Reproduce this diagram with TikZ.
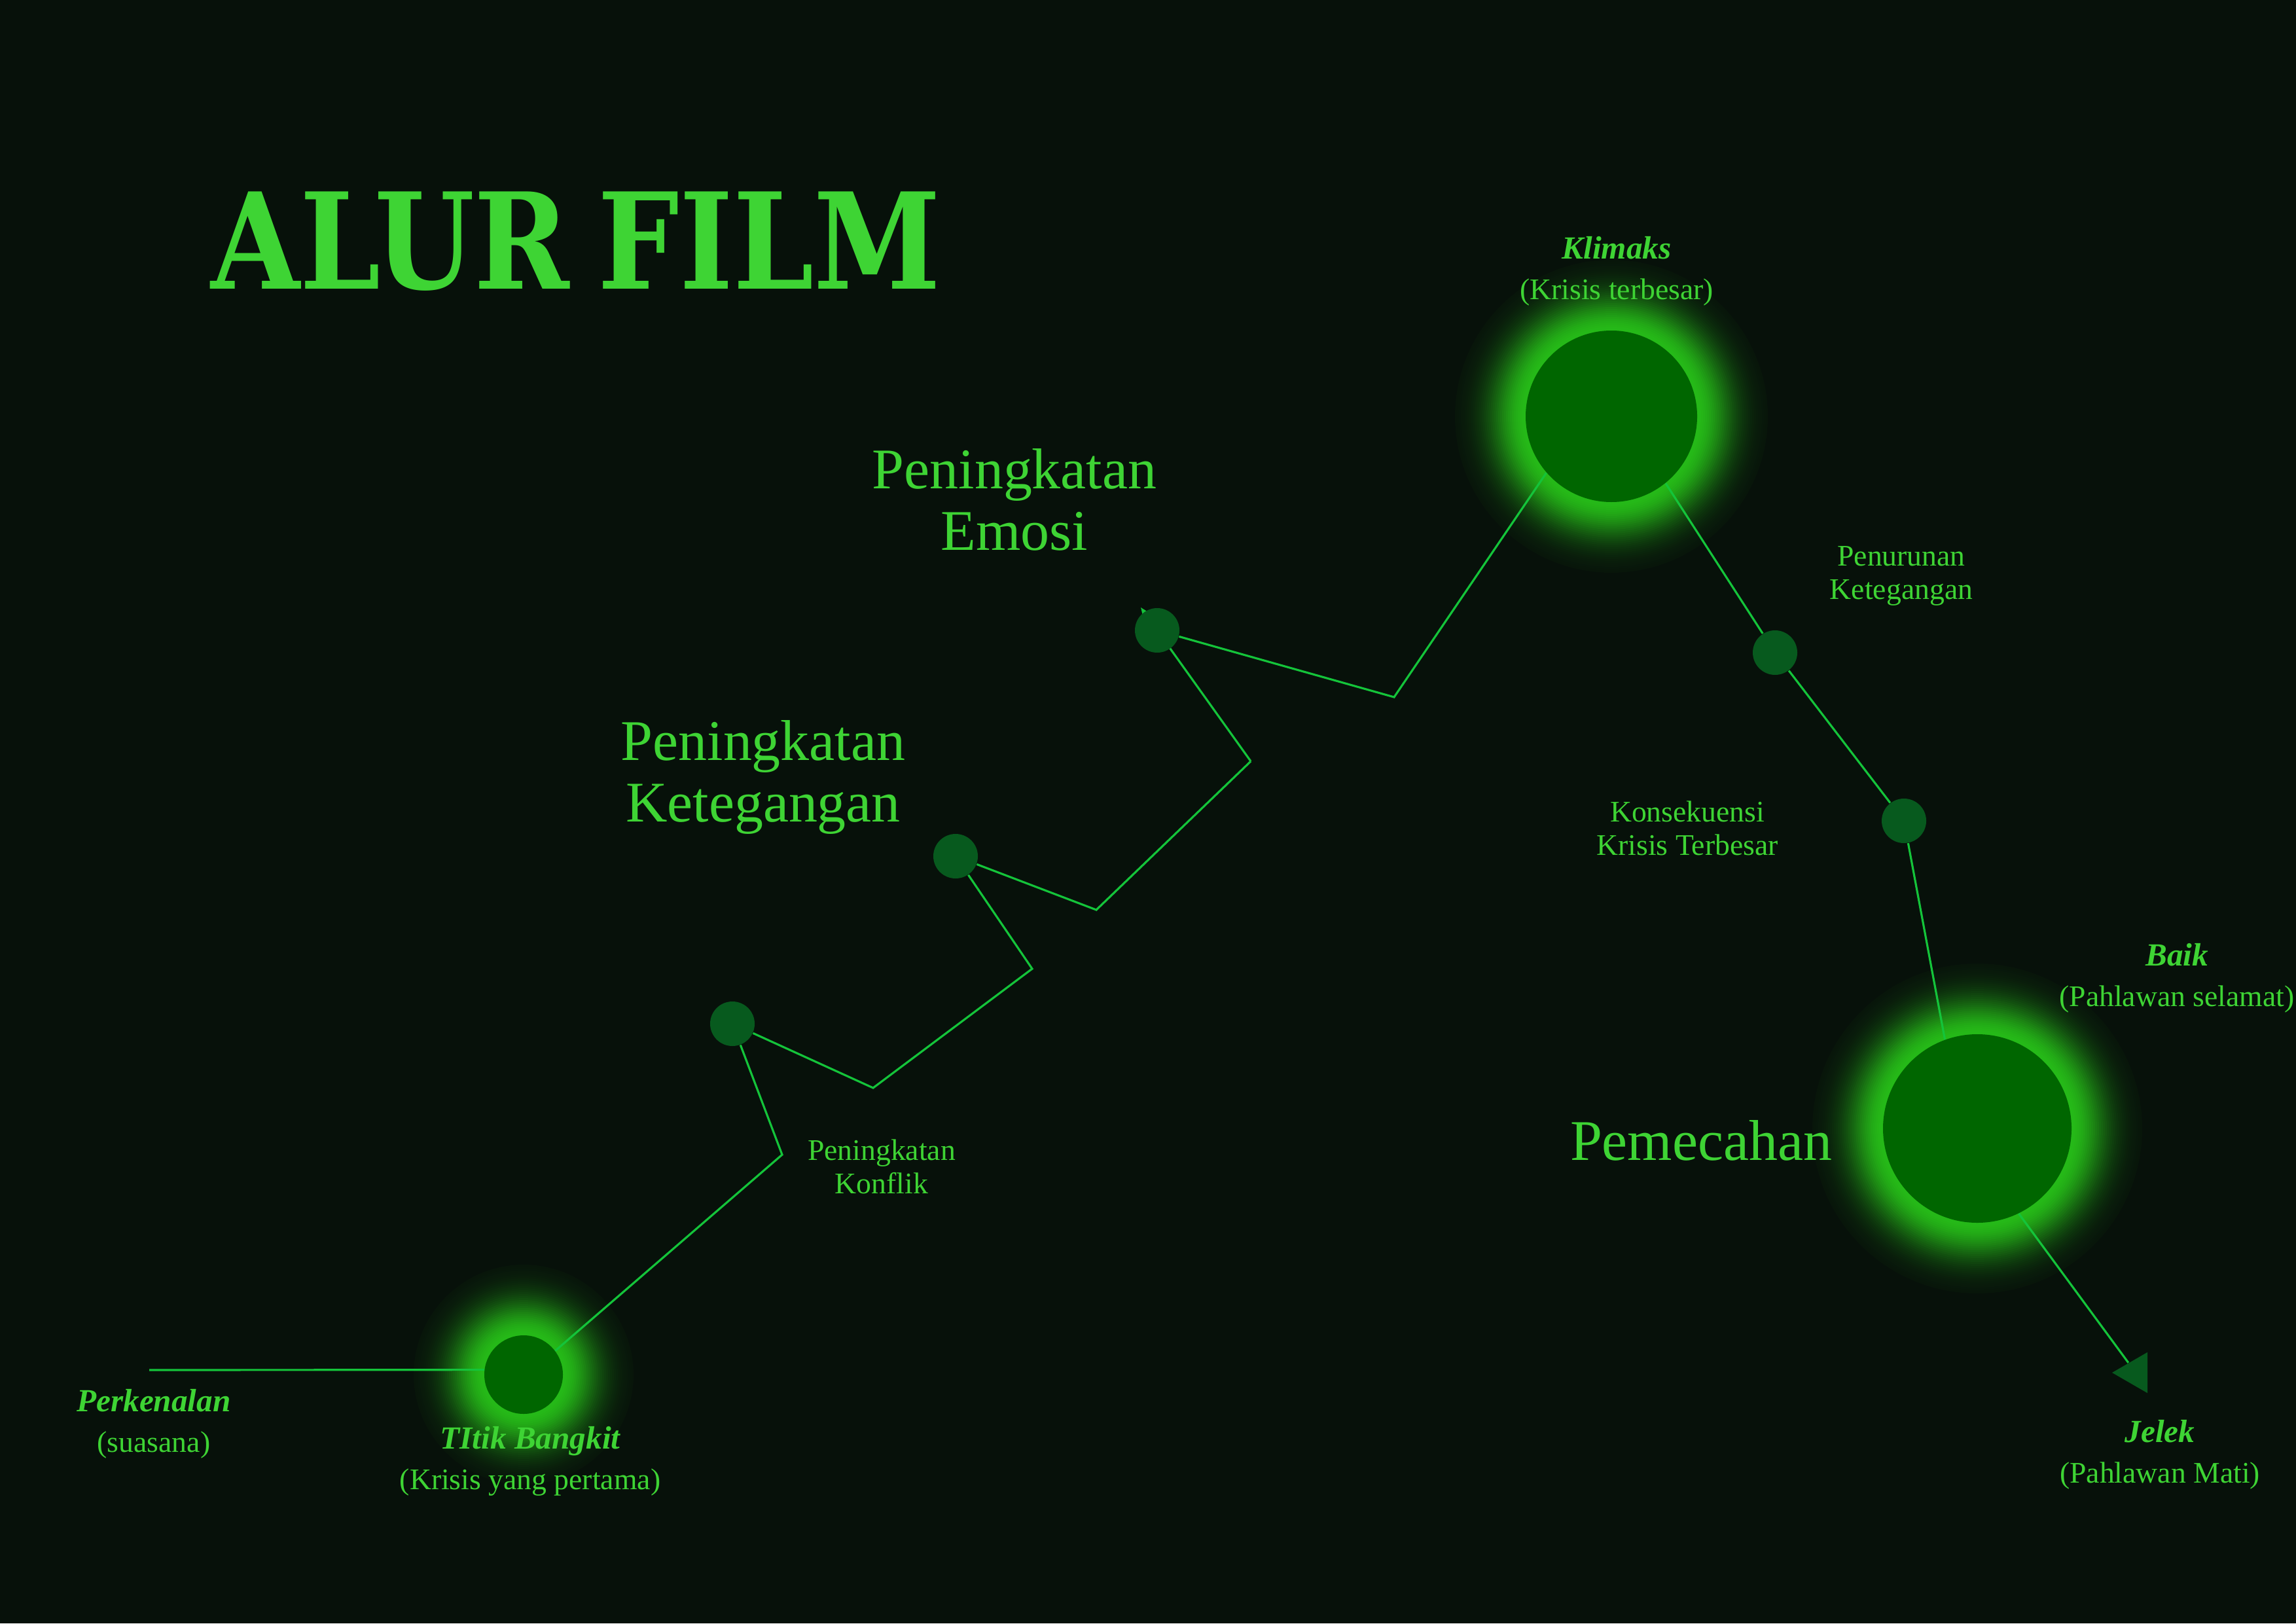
\documentclass[tikz,border=0pt]{standalone}
\usepackage{fontspec}
\setmainfont{Liberation Serif}
\newfontfamily\judulfont{DejaVu Serif}
\usepackage{graphicx}
\usetikzlibrary{shapes.geometric,arrows.meta,calc,backgrounds}

\definecolor{latar}{RGB}{7,17,10}
\definecolor{teks}{RGB}{62,212,52}
\definecolor{garisc}{RGB}{20,196,58}
\definecolor{titikc}{RGB}{7,90,30}
\definecolor{bulatc}{RGB}{0,102,0}
\definecolor{cahaya}{RGB}{40,200,25}

\newcommand{\hias}[1]{{\fontsize{14}{15}\selectfont\bfseries\itshape #1}}

\begin{document}
\begin{tikzpicture}[
    every node/.style={text=teks},
    kecil/.style={font=\fontsize{13}{14.5}\selectfont, align=center, anchor=base, inner sep=0pt},
    besar/.style={font=\fontsize{25}{26.7}\selectfont, align=center, anchor=base, inner sep=0pt},
    bulat/.style={circle, fill=bulatc, inner sep=0pt},
    titik/.style={circle, fill=titikc, minimum size=0.68cm, inner sep=0pt},
    garis/.style={draw=garisc, line width=0.9pt},
  ]
  \useasboundingbox (0,0) rectangle (35.08,-24.80);

  % --- judul ---
  \node[anchor=base, inner sep=0pt, font=\judulfont\bfseries\fontsize{58}{58}\selectfont]
    (judul) at (8.80,-4.41) {\scalebox{0.86}[1]{ALUR\hspace{-0.1em} FILM}};

  % --- lingkaran besar ---
  \node[bulat, minimum size=1.20cm] (bangkit) at (8.00,-21.00) {};
  \node[bulat, minimum size=2.62cm] (klimaks) at (24.62,-6.36) {};
  \node[bulat, minimum size=2.88cm] (pecah)   at (30.21,-17.24) {};

  % --- titik kecil ---
  \node[titik] (konflik) at (11.19,-15.64) {};
  \node[titik] (tegang)  at (14.60,-13.08) {};
  \node[titik] (emosi)   at (17.68,-9.63) {};
  \node[titik] (turun)   at (27.12,-9.97) {};
  \node[titik] (akibat)  at (29.09,-12.54) {};
  \node[regular polygon, regular polygon sides=3, shape border rotate=90,
        minimum size=0.72cm, inner sep=0pt, fill=titikc] (ujung) at (32.63,-20.97) {};

  % --- tikungan garis ---
  \coordinate (awal) at (2.28,-20.93);
  \coordinate (b1) at (11.95,-17.64);
  \coordinate (b2) at (13.34,-16.62);
  \coordinate (b3) at (15.77,-14.80);
  \coordinate (b4) at (16.75,-13.90);
  \coordinate (b5) at (19.11,-11.63);
  \coordinate (b6) at (21.30,-10.65);

  % --- label (titik acuan = garis dasar baris terakhir) ---
  \node[kecil] (tkenal)   at (2.35,-22.18)  {\hias{Perkenalan}\\[3pt](suasana)};
  \node[kecil] (tbangkit) at (8.10,-22.75)  {\hias{TItik Bangkit}\\[3pt](Krisis yang pertama)};
  \node[kecil] (tkonflik) at (13.47,-18.23) {Peningkatan\\Konflik};
  \node[besar] (ttegang)  at (11.66,-12.55) {Peningkatan\\Ketegangan};
  \node[besar] (temosi)   at (15.50,-8.40)  {Peningkatan\\Emosi};
  \node[kecil] (tklimaks) at (24.70,-4.57)  {\hias{Klimaks}\\[3pt](Krisis terbesar)};
  \node[kecil] (tturun)   at (29.05,-9.15)  {Penurunan\\Ketegangan};
  \node[kecil] (takibat)  at (25.78,-13.06) {Konsekuensi\\Krisis Terbesar};
  \node[besar] (tpecah)   at (25.99,-17.72) {Pemecahan};
  \node[kecil] (tbaik)    at (33.26,-15.37) {\hias{Baik}\\[3pt](Pahlawan selamat)};
  \node[kecil] (tjelek)   at (33.00,-22.65) {\hias{Jelek}\\[3pt](Pahlawan Mati)};

  \begin{scope}[on background layer]
    \fill[latar] (0,0) rectangle (35.08,-24.80);
    % cahaya
    \foreach \n/\jari in {bangkit/0.60, klimaks/1.31, pecah/1.44}
      \foreach \k in {36,35,...,1} {
        \pgfmathsetmacro\jarak{0.03*\k}
        \pgfmathsetmacro\kuat{92*exp(-\jarak*\jarak/0.33)}
        \fill[cahaya!\kuat!latar] (\n.center) circle[radius=\jari+\jarak];
      }
    % alur
    \draw[garis] (awal) -- (bangkit.173);
    \draw[garis] (bangkit.37) -- (b1) -- (konflik) -- (b2) -- (b3) -- (tegang) -- (b4) -- (b5);
    \draw[garis, -{Triangle[length=0.3cm, width=0.24cm]}] (b5) -- ($(emosi.center)!-0.43cm!(b5)$);
    \draw[garis] (emosi) -- (b6) -- (klimaks.-139);
    \draw[garis] (klimaks.-51) -- (turun) -- (akibat) -- (pecah.110);
    \draw[garis] (pecah.-64) -- (ujung);
  \end{scope}
\end{tikzpicture}
\end{document}
